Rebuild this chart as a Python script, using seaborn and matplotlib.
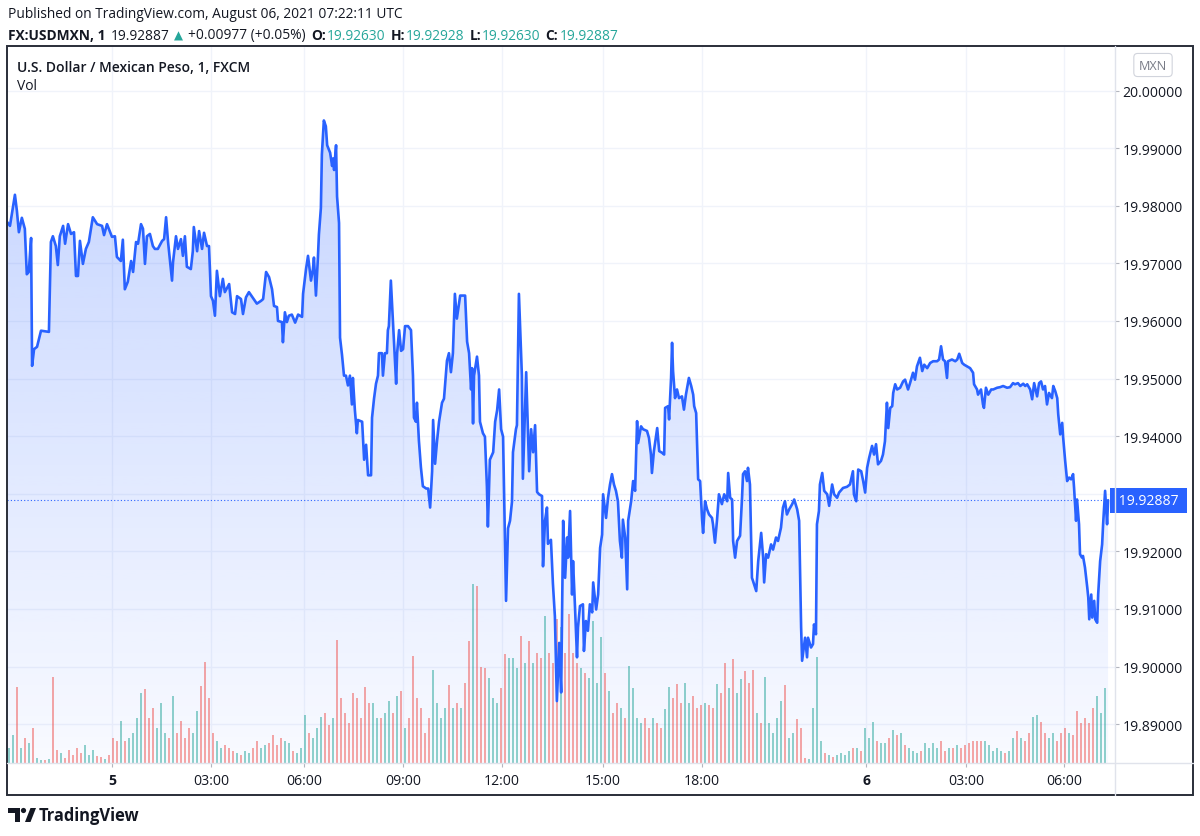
import numpy as np
import matplotlib
matplotlib.use("Agg")
import matplotlib.pyplot as plt
import matplotlib.transforms as mtransforms
from matplotlib.patches import Rectangle, Polygon, Circle
from matplotlib.lines import Line2D
import seaborn as sns

# ── Data: USD/MXN 1-minute close (bar-index axis, hours from day 5 00:00) ──
price_t = [
    -3.18, -3.09, -2.94, -2.88, -2.82, -2.73, -2.64, -2.58, -2.52, -2.45, -2.42, -2.36, -2.27, -2.15, -1.91,
    -1.85, -1.79, -1.70, -1.64, -1.58, -1.48, -1.42, -1.33, -1.24, -1.15, -1.09, -1.03, -0.97, -0.88, -0.79,
    -0.70, -0.58, -0.45, -0.30, -0.24, -0.15, 0.00, 0.09, 0.15, 0.27, 0.33, 0.39, 0.48, 0.58, 0.64, 0.73,
    0.79, 0.88, 0.94, 1.00, 1.06, 1.15, 1.24, 1.30, 1.39, 1.52, 1.58, 1.64, 1.70, 1.82, 1.85, 1.94, 2.00,
    2.09, 2.15, 2.21, 2.27, 2.39, 2.45, 2.48, 2.58, 2.64, 2.73, 2.79, 2.88, 2.94, 3.00, 3.06, 3.12, 3.18,
    3.27, 3.36, 3.42, 3.55, 3.64, 3.73, 3.79, 3.91, 3.97, 4.06, 4.15, 4.27, 4.39, 4.52, 4.58, 4.67, 4.76,
    4.85, 4.91, 5.00, 5.03, 5.15, 5.18, 5.24, 5.30, 5.36,
    5.45, 5.55, 5.64, 5.76, 5.79, 5.88, 5.94, 6.03, 6.09, 6.12, 6.18, 6.24, 6.27, 6.33, 6.36, 6.42, 6.48,
    6.52, 6.61, 6.67, 6.70, 6.73, 6.79, 6.82, 6.88, 6.91, 6.97, 7.03, 7.09, 7.15, 7.21, 7.27, 7.30, 7.36,
    7.42, 7.45, 7.58, 7.64, 7.70, 7.76, 7.85, 7.88, 7.94, 8.00, 8.06, 8.09, 8.18, 8.21, 8.27, 8.33, 8.36,
    8.39, 8.45, 8.52, 8.61, 8.64, 8.70, 8.76, 8.82, 8.88, 8.97, 9.06, 9.12, 9.15, 9.21, 9.24, 9.30, 9.36,
    9.42, 9.52, 9.58, 9.64, 9.70, 9.73, 9.79, 9.85, 9.91, 10.00, 10.06, 10.15, 10.21, 10.27, 10.33, 10.39,
    10.45, 10.55, 10.70, 10.76, 10.82, 10.88, 10.91, 10.94, 10.97, 11.06, 11.12, 11.15, 11.24, 11.30, 11.36,
    11.39, 11.45, 11.55, 11.61, 11.67, 11.73, 11.79, 11.85, 11.88, 11.94, 12.00, 12.06, 12.12, 12.15, 12.24,
    12.27, 12.33, 12.39, 12.42, 12.45, 12.55, 12.58, 12.64, 12.70, 12.76, 12.82, 12.88, 12.94, 13.03, 13.06,
    13.12, 13.18, 13.21, 13.30, 13.36, 13.42, 13.48, 13.55, 13.61,
    13.67, 13.73, 13.79, 13.82, 13.88, 13.94, 13.97, 14.03, 14.09, 14.12, 14.18, 14.27, 14.30, 14.36, 14.42,
    14.48, 14.55, 14.58, 14.67, 14.73, 14.79, 14.85, 14.88, 14.97, 15.03, 15.09, 15.15, 15.21, 15.27, 15.33,
    15.39, 15.45, 15.48, 15.55, 15.61, 15.64, 15.73, 15.79, 15.85, 15.91, 15.94, 16.03, 16.09, 16.21, 16.27,
    16.33, 16.36, 16.42, 16.52, 16.58, 16.67, 16.73, 16.76, 16.85, 16.88, 16.94, 16.97, 17.00, 17.06, 17.12,
    17.18, 17.27, 17.33, 17.39, 17.48, 17.55, 17.61, 17.64, 17.70, 17.76, 17.82, 17.88, 17.91, 17.97, 18.03,
    18.09, 18.18, 18.21, 18.27, 18.33, 18.39, 18.48, 18.55, 18.64, 18.67, 18.73, 18.79, 18.82, 18.88, 18.94,
    19.03, 19.09, 19.12, 19.18, 19.24, 19.27, 19.33, 19.39, 19.42, 19.52, 19.58, 19.67, 19.73, 19.76, 19.82,
    19.88, 19.97, 20.03, 20.12, 20.18, 20.27, 20.33, 20.39, 20.45, 20.52, 20.61, 20.67, 20.76, 20.82, 20.88,
    20.91, 21.00, 21.06, 21.09, 21.18, 21.24, 21.27, 21.33, 21.36, 21.42, 21.45, 21.52, 21.58, 21.67, 21.73,
    21.82, 21.88, 21.97, 22.03,
    22.15, 22.27, 22.36, 22.45, 22.48, 22.55, 22.61, 22.70, 22.76, 22.82, 22.88, 22.94, 23.03, 23.09, 23.15,
    23.21, 23.30, 23.36, 23.42, 23.48, 23.52, 23.58, 23.64, 23.67, 23.73, 23.79, 23.88, 23.97, 24.03, 24.12,
    24.18, 24.27, 24.33, 24.39, 24.48, 24.55, 24.61, 24.70, 24.79, 24.88, 25.00, 25.06, 25.12, 25.18, 25.24,
    25.30, 25.33, 25.45, 25.55, 25.61, 25.67, 25.76, 25.82, 25.91, 26.00, 26.09, 26.12, 26.21, 26.24, 26.33,
    26.39, 26.42, 26.48, 26.55, 26.64, 26.70, 26.82, 26.91, 27.00, 27.12, 27.21, 27.30, 27.36, 27.45, 27.52,
    27.61, 27.67, 27.73, 27.82, 27.88, 27.94, 28.03, 28.09, 28.15, 28.21, 28.27, 28.33, 28.39, 28.48, 28.52,
    28.58, 28.64, 28.67, 28.73, 28.79, 28.82, 28.88, 28.94, 29.00, 29.06, 29.12, 29.15, 29.21, 29.24, 29.30,
    29.33, 29.39, 29.42, 29.48, 29.55, 29.58, 29.61, 29.67, 29.70, 29.76, 29.79, 29.85, 29.88, 29.94, 30.00,
    30.03, 30.09, 30.15, 30.18,
]
price_close = [
    19.9772, 19.9765, 19.9819, 19.9791, 19.9754, 19.9779, 19.9760, 19.9681, 19.9685, 19.9744, 19.9522, 19.9551,
    19.9555, 19.9583, 19.9581, 19.9737, 19.9747, 19.9730, 19.9697, 19.9747, 19.9765, 19.9734, 19.9768, 19.9751,
    19.9754, 19.9678, 19.9678, 19.9739, 19.9699, 19.9725, 19.9737, 19.9780, 19.9768, 19.9765, 19.9749, 19.9768,
    19.9746, 19.9747, 19.9711, 19.9704, 19.9741, 19.9655, 19.9668, 19.9704, 19.9685, 19.9737, 19.9734, 19.9768,
    19.9760, 19.9699, 19.9747, 19.9751, 19.9730, 19.9725, 19.9725, 19.9739, 19.9742, 19.9780, 19.9737, 19.9670,
    19.9702, 19.9747, 19.9725, 19.9742, 19.9713, 19.9747, 19.9694, 19.9690, 19.9721, 19.9763, 19.9721, 19.9756,
    19.9725, 19.9753, 19.9730, 19.9730, 19.9643, 19.9635, 19.9609, 19.9687, 19.9643, 19.9673, 19.9650, 19.9664,
    19.9615, 19.9612, 19.9643, 19.9638, 19.9612, 19.9641, 19.9650, 19.9640, 19.9630, 19.9635, 19.9638, 19.9685,
    19.9676, 19.9655, 19.9626, 19.9624, 19.9600, 19.9598, 19.9563, 19.9615, 19.9598, 19.9609,
    19.9611, 19.9597, 19.9611, 19.9607, 19.9647, 19.9690, 19.9713, 19.9670, 19.9690, 19.9710, 19.9644, 19.9710,
    19.9750, 19.9796, 19.9889, 19.9948, 19.9938, 19.9905, 19.9892, 19.9869, 19.9882, 19.9862, 19.9905, 19.9816,
    19.9770, 19.9571, 19.9541, 19.9505, 19.9505, 19.9488, 19.9505, 19.9455, 19.9501, 19.9445, 19.9405, 19.9428,
    19.9425, 19.9359, 19.9385, 19.9332, 19.9332, 19.9432, 19.9465, 19.9491, 19.9505, 19.9544, 19.9544, 19.9505,
    19.9544, 19.9544, 19.9584, 19.9591, 19.9670, 19.9591, 19.9491, 19.9544, 19.9584, 19.9548, 19.9551, 19.9591,
    19.9591, 19.9584, 19.9505, 19.9432, 19.9425, 19.9458, 19.9392, 19.9346, 19.9313, 19.9309, 19.9309, 19.9276,
    19.9339, 19.9428, 19.9352, 19.9392, 19.9425, 19.9458, 19.9465, 19.9531, 19.9544, 19.9511, 19.9544, 19.9647,
    19.9604, 19.9644, 19.9644, 19.9564, 19.9544, 19.9481, 19.9518, 19.9422, 19.9505, 19.9538, 19.9505, 19.9425,
    19.9405, 19.9399, 19.9313, 19.9243, 19.9359, 19.9372, 19.9425, 19.9445, 19.9481, 19.9412, 19.9399, 19.9306,
    19.9114, 19.9240, 19.9253, 19.9286, 19.9372, 19.9412, 19.9419, 19.9647, 19.9551, 19.9505, 19.9326, 19.9511,
    19.9452, 19.9339, 19.9412, 19.9372, 19.9419, 19.9303, 19.9299, 19.9296, 19.9174, 19.9253, 19.9276, 19.9213,
    19.9220, 19.9144, 19.9087, 19.8940, 19.9041, 19.8955,
    19.9253, 19.9154, 19.9224, 19.9189, 19.9270, 19.9125, 19.9183, 19.9102, 19.9016, 19.9068, 19.9105, 19.9108,
    19.9027, 19.9079, 19.9062, 19.9108, 19.9094, 19.9146, 19.9099, 19.9125, 19.9206, 19.9229, 19.9299, 19.9258,
    19.9293, 19.9316, 19.9334, 19.9316, 19.9305, 19.9287, 19.9218, 19.9189, 19.9255, 19.9224, 19.9134, 19.9253,
    19.9287, 19.9322, 19.9305, 19.9426, 19.9388, 19.9417, 19.9412, 19.9409, 19.9397, 19.9368, 19.9336, 19.9374,
    19.9414, 19.9374, 19.9371, 19.9368, 19.9449, 19.9452, 19.9429, 19.9501, 19.9562, 19.9513, 19.9466, 19.9481,
    19.9466, 19.9469, 19.9446, 19.9472, 19.9501, 19.9487, 19.9472, 19.9452, 19.9440, 19.9325, 19.9322, 19.9255,
    19.9232, 19.9287, 19.9273, 19.9264, 19.9258, 19.9247, 19.9215, 19.9253, 19.9299, 19.9282, 19.9299, 19.9287,
    19.9336, 19.9293, 19.9290, 19.9218, 19.9189, 19.9218, 19.9227, 19.9293, 19.9334, 19.9339, 19.9322, 19.9345,
    19.9316, 19.9154, 19.9149, 19.9131, 19.9183, 19.9232, 19.9189, 19.9146, 19.9195, 19.9189, 19.9212, 19.9203,
    19.9224, 19.9218, 19.9241, 19.9276, 19.9287, 19.9264, 19.9273, 19.9282, 19.9290, 19.9273, 19.9253, 19.9068,
    19.9010, 19.9050, 19.9016, 19.9050, 19.9033, 19.9039, 19.9073, 19.9056, 19.9247, 19.9270, 19.9316, 19.9336,
    19.9305, 19.9299, 19.9279, 19.9316, 19.9299, 19.9293, 19.9302,
    19.9310, 19.9312, 19.9316, 19.9339, 19.9299, 19.9287, 19.9342, 19.9339, 19.9322, 19.9302, 19.9345, 19.9362,
    19.9383, 19.9368, 19.9386, 19.9351, 19.9357, 19.9368, 19.9391, 19.9458, 19.9414, 19.9449, 19.9452, 19.9475,
    19.9490, 19.9481, 19.9484, 19.9495, 19.9498, 19.9481, 19.9492, 19.9510, 19.9498, 19.9521, 19.9536, 19.9513,
    19.9524, 19.9518, 19.9527, 19.9530, 19.9530, 19.9533, 19.9556, 19.9533, 19.9530, 19.9501, 19.9530, 19.9533,
    19.9530, 19.9533, 19.9543, 19.9527, 19.9524, 19.9521, 19.9518, 19.9510, 19.9490, 19.9481, 19.9472, 19.9481,
    19.9455, 19.9449, 19.9484, 19.9472, 19.9481, 19.9481, 19.9484, 19.9485, 19.9487, 19.9484, 19.9485, 19.9492,
    19.9490, 19.9492, 19.9487, 19.9491, 19.9487, 19.9490, 19.9481, 19.9464, 19.9492, 19.9469, 19.9492, 19.9495,
    19.9481, 19.9487, 19.9455, 19.9475, 19.9466, 19.9487, 19.9478, 19.9466, 19.9438, 19.9403, 19.9423, 19.9397,
    19.9357, 19.9322, 19.9328, 19.9325, 19.9334, 19.9310, 19.9253, 19.9290, 19.9247, 19.9195, 19.9189, 19.9192,
    19.9172, 19.9137, 19.9120, 19.9082, 19.9125, 19.9085, 19.9114, 19.9082, 19.9076, 19.9125, 19.9183, 19.9212,
    19.9247, 19.9305, 19.9247, 19.92887,
]

# volume, roughly every 7 minutes from the start of the chart to the last bar
vol_first_t, vol_last_t = -3.12, 30.09
volume = [
    15, 28, 76, 15, 25, 20, 35, 5, 3, 3, 4, 86, 13, 10, 5, 13, 8, 15, 10, 18,
    8, 13, 7, 6, 4, 8, 25, 22, 42, 22, 25, 30, 45, 70, 74, 45, 55, 35, 60, 30,
    25, 67, 30, 42, 25, 35, 30, 52, 77, 101, 65, 30, 22, 15, 18, 15, 12, 10, 8, 12,
    10, 15, 22, 15, 18, 20, 28, 18, 25, 22, 20, 12, 10, 15, 48, 30, 25, 35, 46, 50,
    38, 45, 123, 65, 50, 40, 70, 65, 45, 76, 60,
    60, 45, 45, 50, 62, 50, 67, 72, 35, 45, 107, 65, 55, 30, 45, 93, 60, 45, 55, 78,
    55, 60, 55, 80, 122, 179, 177, 96, 95, 85, 65, 60, 75, 109, 105, 105, 95, 127, 100, 122,
    100, 110, 105, 147, 110, 100, 144, 136, 110, 149, 110, 100, 95, 90, 85, 142, 80, 126, 90, 72,
    50, 60, 55, 45, 97, 75, 45, 40, 45, 35, 45, 40, 35, 54, 76, 65, 79, 60, 80, 60,
    67, 55, 58, 60, 58, 55, 79, 70, 100, 75, 104, 70, 84,
    92, 80, 93, 50, 40, 86, 40, 30, 45, 62, 78, 25, 30, 44, 35, 5, 4, 55, 106, 22,
    10, 8, 6, 8, 10, 8, 12, 15, 15, 12, 35, 25, 41, 22, 20, 20, 25, 33, 28, 30,
    18, 15, 12, 10, 12, 20, 15, 20, 15, 22, 12, 15, 15, 18, 15, 18, 20, 22, 22, 22,
    22, 18, 12, 15, 12, 10, 12, 25, 32, 25, 22, 30, 46, 48, 41, 30, 25, 30, 22, 30,
    35, 30, 28, 52, 40, 45, 40, 55, 67, 50, 75,
]

price_ticks = [19.89, 19.90, 19.91, 19.92, 19.93, 19.94, 19.95, 19.96, 19.97, 19.98, 19.99, 20.00]
time_tick_pos = [0.0, 3.0, 5.82, 8.82, 11.82, 14.88, 17.88, 22.85, 25.88, 28.85]
time_tick_lab = ["5", "03:00", "06:00", "09:00", "12:00", "15:00", "18:00", "6", "03:00", "06:00"]

last_price = 19.92887
quote = [("O:", "19.92630"), ("H:", "19.92928"), ("L:", "19.92630"), ("C:", "19.92887")]

# ── Styling ──────────────────────────────────────────────
BLUE = "#2962ff"
TEAL = "#26a69a"
RED = "#ef5350"
INK = "#131722"
W, H = 1200, 837

sns.set_theme(style="white")
plt.rcParams["font.family"] = ["Open Sans", "DejaVu Sans"]

fig = plt.figure(figsize=(W / 100, H / 100), dpi=100)
fig.patch.set_facecolor("white")
renderer = fig.canvas.get_renderer()
pix = mtransforms.Affine2D().scale(1.0 / W, -1.0 / H).translate(0, 1) + fig.transFigure


def fit_size(s, width_px, weight="normal"):
    t = fig.text(0, 0, s, fontsize=10, fontweight=weight)
    w = t.get_window_extent(renderer).width
    t.remove()
    return 10 * width_px / w


# plot area: x 7..1115 px, y 47..764 px
L, R, T, B = 7, 1115, 47, 764
ax = fig.add_axes([L / W, 1 - B / H, (R - L) / W, (B - T) / H])
ax.set_facecolor("none")

t_arr = np.array(price_t)
p_arr = np.array(price_close)
x_lo, x_hi = -3.18, 30.39
y_lo, y_hi = 19.88325, 20.00773

# gradient area under the line
fb = ax.fill_between(t_arr, p_arr, y_lo, facecolor="none", edgecolor="none")
grad = np.zeros((256, 1, 4))
grad[..., :3] = matplotlib.colors.to_rgb(BLUE)
grad[:, 0, 3] = np.linspace(0.27, 0.03, 256)
im = ax.imshow(grad, extent=[t_arr[0], t_arr[-1], y_lo, p_arr.max()], aspect="auto",
               origin="upper", zorder=1, interpolation="bilinear")
im.set_clip_path(fb.get_paths()[0], transform=ax.transData)

# volume histogram at the bottom of the pane (quarter of the height)
vol = np.array(volume, dtype=float)
vol_t = np.linspace(vol_first_t, vol_last_t, len(vol))
step = vol_t[1] - vol_t[0]
up = np.interp(vol_t + step / 2, t_arr, p_arr) >= np.interp(vol_t - step / 2, t_arr, p_arr)
vol_colors = np.where(up, TEAL, RED)
ax.bar(vol_t, vol / (vol.max() * 4.0), width=step * 0.5, bottom=0, color=vol_colors,
       alpha=0.5, linewidth=0, zorder=1.5, transform=ax.get_xaxis_transform())

sns.lineplot(x=t_arr, y=p_arr, ax=ax, color=BLUE, linewidth=1.9, sort=False,
             estimator=None, zorder=3)
ax.axhline(last_price, color=BLUE, linewidth=0.8, linestyle=(0, (1, 2)), zorder=2)

ax.set_xlim(x_lo, x_hi)
ax.set_ylim(y_lo, y_hi)
for s in ax.spines.values():
    s.set_visible(False)
ax.grid(True, color="#f0f3fa", linewidth=1)
ax.set_axisbelow(True)
ax.set_xlabel("")
ax.set_ylabel("")

tick_fs = fit_size("20.00000", 60)
ax.yaxis.tick_right()
ax.set_yticks(price_ticks)
# the 19.93 label sits under the last-price tag, as on the reference
ax.set_yticklabels(["" if abs(v - last_price) < 0.004 else f"{v:.5f}" for v in price_ticks])
ax.set_xticks(time_tick_pos)
ax.set_xticklabels(time_tick_lab)
ax.tick_params(axis="y", which="both", right=True, left=False, length=3, width=0.8,
               color="#b2b5be", pad=2.5, labelsize=tick_fs, labelcolor=INK)
ax.tick_params(axis="x", which="both", bottom=True, length=3, width=0.8,
               color="#b2b5be", pad=4, labelsize=tick_fs, labelcolor=INK)
for lab in ax.get_xticklabels():
    if ":" not in lab.get_text():
        lab.set_fontweight("bold")

# last price tag on the price scale
ax.text(1.0, last_price, " 19.92887 ", transform=ax.get_yaxis_transform(), ha="left", va="center",
        color="white", fontsize=tick_fs, zorder=5, clip_on=False,
        bbox=dict(boxstyle="square,pad=0.35", facecolor=BLUE, edgecolor="none"))

# pane separators and outer frame
fig.add_artist(Line2D([R, R], [T, 796], color="#e0e3eb", linewidth=1, transform=pix))
fig.add_artist(Line2D([L, 1193], [B, B], color="#e0e3eb", linewidth=1, transform=pix))
fig.add_artist(Rectangle((7, 47), 1186, 749, fill=False, edgecolor="#2a2e39",
                         linewidth=1.4, transform=pix))

# header lines
head_fs = fit_size("Published on TradingView.com, August 06, 2021 07:22:11 UTC", 396)
fig.text(8, 15, "Published on TradingView.com, August 06, 2021 07:22:11 UTC", transform=pix,
         fontsize=head_fs, color=INK, va="center")


def put(x, y, s, **kw):
    kw.setdefault("fontsize", head_fs)
    t = fig.text(x, y, s, transform=pix, va="center", **kw)
    return t.get_window_extent(renderer).x1


x = put(8, 36, "FX:USDMXN, 1", color=INK, fontweight="bold")
x = put(x + 5, 36, "19.92887", color=INK)
x = put(x + 5, 36, "▲", color=TEAL, fontsize=head_fs * 0.85)
x = put(x + 5, 36, "+0.00977 (+0.05%)", color=INK)
for key, val in quote:
    x = put(x + 5, 36, key, color=INK, fontweight="bold")
    x = put(x + 1, 36, val, color=TEAL)

title_fs = fit_size("U.S. Dollar / Mexican Peso, 1, FXCM", 234, weight="semibold")
fig.text(17, 68, "U.S. Dollar / Mexican Peso, 1, FXCM", transform=pix, va="center",
         fontsize=title_fs, fontweight="semibold", color=INK)
fig.text(17, 87, "Vol", transform=pix, va="center", fontsize=title_fs, color=INK)

fig.text(1153, 66, "MXN", transform=pix, ha="center", va="center", fontsize=tick_fs * 0.9,
         color="#787b86",
         bbox=dict(boxstyle="round,pad=0.4,rounding_size=0.3", facecolor="white",
                   edgecolor="#d1d4dc", linewidth=0.8))

# TradingView mark + wordmark
fig.add_artist(Polygon([(8, 809), (20, 809), (20, 823), (15, 823), (15, 814), (8, 814)],
                       closed=True, facecolor=INK, edgecolor="none", transform=pix))
fig.add_artist(Circle((23.5, 811.5), 2.6, facecolor=INK, edgecolor="none", transform=pix))
fig.add_artist(Polygon([(25, 823), (30.5, 809), (36, 809), (30.5, 823)], closed=True,
                       facecolor=INK, edgecolor="none", transform=pix))
logo_fs = fit_size("TradingView", 101, weight="bold")
fig.text(39, 816, "TradingView", transform=pix, va="center", fontsize=logo_fs,
         fontweight="bold", color=INK)

fig.savefig("out.png", dpi=100)
